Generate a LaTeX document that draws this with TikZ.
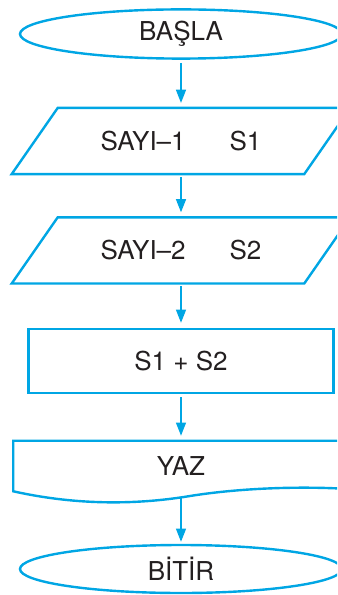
\documentclass[tikz,border=0pt]{standalone}
\usepackage{fontspec}
\setmainfont{TeX Gyre Heros}
\usepackage{xcolor}
\usepackage{tikz}
\usetikzlibrary{
    arrows.meta,
    positioning,
    calc,
    shapes.geometric
}
\definecolor{flowblue}{RGB}{0,166,228}
\definecolor{inkgray}{RGB}{35,31,32}
\tikzset{
    terminal/.style={
        draw=flowblue,
        ellipse,
        line width=0.6mm,
        minimum width=80.5mm,
        minimum height=12mm,
        text=inkgray
    }
}
\tikzset{
    inputbox/.style={
        minimum width=73mm,
        minimum height=16.4mm,
        text=inkgray
    }
}
\tikzset{
    process/.style={
        draw=flowblue,
        line width=0.6mm,
        minimum width=76.25mm,
        minimum height=16mm,
        text=inkgray
    }
}
\tikzset{
    docbox/.style={
        minimum width=83.75mm,
        minimum height=12.5mm,
        text=inkgray
    }
}
\tikzset{
    outline/.style={
        draw=flowblue,
        line width=0.6mm,
        line join=miter
    }
}
\tikzset{
    flowarrow/.style={
        draw=flowblue,
        line width=0.35mm,
        -{Triangle[length=3.3mm,width=2.5mm]},
        shorten <=0.75mm,
        shorten >=1.25mm
    }
}

\begin{document}
\begin{tikzpicture}[
    font=\fontsize{18.5pt}{22pt}\selectfont
]

\useasboundingbox (0,0) rectangle (84.25mm,-148.75mm);
\clip (0,0) rectangle (84.25mm,-148.75mm);

% ------------------------------------------------------------
% Flow chart: read two numbers, add them, print
% ------------------------------------------------------------

\node[terminal] (basla) at (45.25mm,-8.5mm) {BAŞLA};

% input (parallelograms)
\node[inputbox] (sayi1) at (45.25mm,-35.25mm) {SAYI--1\hspace{11mm}S1};
\node[inputbox] (sayi2) at (45.25mm,-62.6mm) {SAYI--2\hspace{11mm}S2};
\foreach \n in {sayi1, sayi2} {
    \draw[outline] ([xshift=-5.75mm]\n.south west) -- ([xshift=5.75mm]\n.north west)
        -- ([xshift=5.75mm]\n.north east) -- ([xshift=-5.75mm]\n.south east) -- cycle;
}

\node[process] (toplam) at (45.25mm,-90.25mm) {S1 + S2};

% output (document symbol)
\node[docbox] (yaz) at (45.25mm,-116.5mm) {YAZ};
\draw[outline] (yaz.south west) -- (yaz.north west) -- (yaz.north east) -- (87.25mm,-122.25mm)
    .. controls (75mm,-121.5mm) and (60mm,-122mm) .. (47.5mm,-124mm)
    .. controls (32.5mm,-126.5mm) and (17.5mm,-126mm) .. (yaz.south west) -- cycle;
\coordinate (yazwave) at (45.25mm,-124.4mm);

\node[terminal] (bitir) at (45.25mm,-142.25mm) {BİTİR};

% connectors
\foreach \a/\b in {basla/sayi1, sayi1/sayi2, sayi2/toplam, toplam/yaz} {
    \draw[flowarrow] (\a) -- (\b);
}
\draw[flowarrow, shorten <=0mm, shorten >=0.5mm] (yazwave) -- (bitir);

\end{tikzpicture}
\end{document}
